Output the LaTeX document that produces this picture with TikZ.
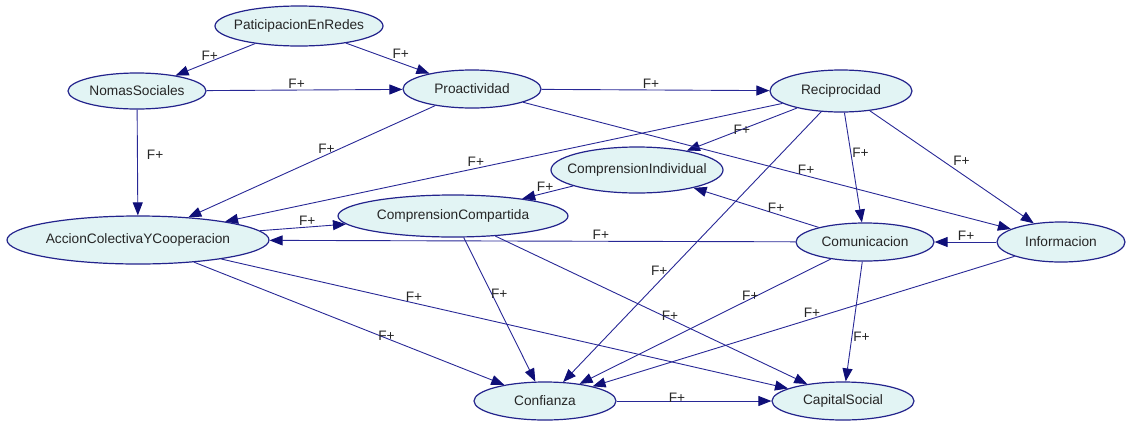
\documentclass[tikz,border=0pt]{standalone}
\usepackage{fontspec}
\setmainfont{Liberation Sans}
\usetikzlibrary{arrows.meta,shapes.geometric}

\definecolor{nodefill}{RGB}{226,244,244}
\definecolor{nodeline}{RGB}{35,35,140}
\definecolor{edgeline}{RGB}{40,40,150}
\definecolor{tipfill}{RGB}{15,15,120}

\begin{document}
\begin{tikzpicture}[
    x=1pt, y=-1pt,
    varnode/.style={ellipse, draw=nodeline, line width=1.2pt, fill=nodefill, inner xsep=-15pt, inner ysep=0pt, font=\fontsize{13.7}{16}\selectfont, text=black!85},
    arrow/.style={-{Triangle[length=13pt,width=10pt,color=tipfill]}, draw=edgeline, line width=0.9pt},
    lbl/.style={font=\fontsize{13.7}{16}\selectfont, inner sep=1pt, text=black!85}
  ]
  \useasboundingbox (0,0) rectangle (1127,421);
  % variables
  \node[varnode, minimum width=168pt, minimum height=40pt] (redes) at (299,26) {PaticipacionEnRedes};
  \node[varnode, minimum width=138pt, minimum height=36pt] (normas) at (137,91) {NomasSociales};
  \node[varnode, minimum width=138pt, minimum height=38pt] (proac) at (472,89) {Proactividad};
  \node[varnode, minimum width=142pt, minimum height=42pt] (recip) at (841,91) {Reciprocidad};
  \node[varnode, minimum width=172pt, minimum height=46pt] (compind) at (637,170) {ComprensionIndividual};
  \node[varnode, minimum width=230pt, minimum height=42pt] (compcomp) at (453,216) {ComprensionCompartida};
  \node[varnode, minimum width=262pt, minimum height=48pt] (accion) at (138,240) {AccionColectivaYCooperacion};
  \node[varnode, minimum width=138pt, minimum height=38pt] (comun) at (865,242) {Comunicacion};
  \node[varnode, minimum width=128pt, minimum height=40pt] (info) at (1061,242) {Informacion};
  \node[varnode, minimum width=142pt, minimum height=38pt] (confi) at (545,401) {Confianza};
  \node[varnode, minimum width=142pt, minimum height=38pt] (capital) at (843,401) {CapitalSocial};
  % influences
  \draw[arrow] (redes) -- node[lbl, pos=.57, above] {F+} (normas);
  \draw[arrow] (redes) -- node[lbl, pos=.54, above right] {F+} (proac);
  \draw[arrow] (normas) -- node[lbl, pos=.46, above] {F+} (proac);
  \draw[arrow] (proac) -- node[lbl, pos=.48, above] {F+} (recip);
  \draw[arrow] (normas) -- node[lbl, pos=.43, right=8pt] {F+} (accion);
  \draw[arrow] (proac) -- node[lbl, pos=.44, above] {F+} (accion);
  \draw[arrow] (recip) -- node[lbl, pos=.55, above] {F+} (accion);
  \draw[arrow] (recip) -- node[lbl, pos=.5] {F+} (compind);
  \draw[arrow] (proac) -- node[lbl, pos=.58, above] {F+} (info);
  \draw[arrow] (recip) -- node[lbl, pos=.37, right] {F+} (comun);
  \draw[arrow] (recip) -- node[lbl, pos=.5, above right] {F+} (info);
  \draw[arrow] (recip) -- node[lbl, pos=.59, left] {F+} (confi);
  \draw[arrow] (compind) -- node[lbl, pos=.55, above] {F+} (compcomp);
  \draw[arrow] (comun) -- node[lbl, pos=.34, above] {F+} (compind);
  \draw[arrow] (accion) -- node[lbl, pos=.55, above] {F+} (compcomp);
  \draw[arrow] (comun) -- node[lbl, pos=.37, above] {F+} (accion);
  \draw[arrow] (info) -- node[lbl, pos=.49, above] {F+} (comun);
  \draw[arrow] (comun) -- node[lbl, pos=.32, above=-3pt] {F+} (confi);
  \draw[arrow] (comun) -- node[lbl, pos=.63, right] {F+} (capital);
  \draw[arrow] (info) -- node[lbl, pos=.48, above] {F+} (confi);
  \draw[arrow] (accion) -- node[lbl, pos=.62, above=-4pt] {F+} (confi);
  \draw[arrow] (accion) -- node[lbl, pos=.34, above] {F+} (capital);
  \draw[arrow] (compcomp) -- node[lbl, pos=.39, right=-2pt] {F+} (confi);
  \draw[arrow] (compcomp) -- node[lbl, pos=.56, above=-3pt] {F+} (capital);
  \draw[arrow] (confi) -- node[lbl, pos=.39, above=-3pt] {F+} (capital);
\end{tikzpicture}
\end{document}
